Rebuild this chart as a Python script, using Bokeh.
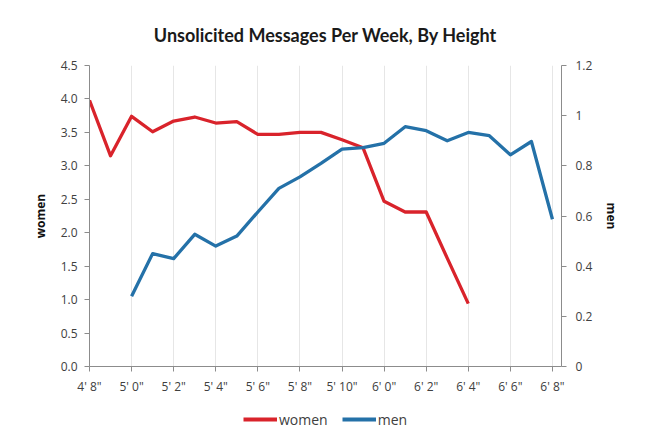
from bokeh.plotting import figure
from bokeh.layouts import column
from bokeh.models import (Range1d, LinearAxis, FixedTicker, Legend, LegendItem)
from bokeh.embed import file_html
from bokeh.resources import INLINE

heights = ["4' 8\"", "4' 10\"", "5' 0\"", "5' 1\"", "5' 2\"", "5' 3\"", "5' 4\"", "5' 5\"",
           "5' 6\"", "5' 7\"", "5' 8\"", "5' 9\"", "5' 10\"", "5' 11\"", "6' 0\"", "6' 1\"",
           "6' 2\"", "6' 3\"", "6' 4\"", "6' 5\"", "6' 6\"", "6' 7\"", "6' 8\""]
women = [3.98, 3.15, 3.74, 3.51, 3.67, 3.73, 3.64, 3.66, 3.47, 3.47, 3.50, 3.50,
         3.39, 3.27, 2.47, 2.31, 2.31, 1.62, 0.94]
men = [None, None, 0.28, 0.45, 0.43, 0.527, 0.48, 0.52, 0.616, 0.71, 0.756, 0.81,
       0.867, 0.873, 0.89, 0.956, 0.94, 0.90, 0.933, 0.92, 0.844, 0.897, 0.587]
left_ticks = [0.0, 0.5, 1.0, 1.5, 2.0, 2.5, 3.0, 3.5, 4.0, 4.5]
right_ticks = [0, 0.2, 0.4, 0.6, 0.8, 1.0, 1.2]
right_labels = ["0", "0.2", "0.4", "0.6", "0.8", "1", "1.2"]
series_names = ["women", "men"]
title_text = "Unsolicited Messages Per Week, By Height"

FONT = "Open Sans"
TXT = "#404040"
AX = "#8c8c8c"
RED = "#d9232b"
BLUE = "#2471a8"

p = figure(width=637, height=397, output_backend="svg", toolbar_location=None,
           x_range=Range1d(0, 22.43), y_range=Range1d(0, 4.5),
           min_border_left=89, min_border_right=76, min_border_top=65, min_border_bottom=27)
p.outline_line_color = None
p.background_fill_color = "white"
p.border_fill_color = "white"

p.extra_y_ranges = {"men": Range1d(0, 1.2)}

xi_w = list(range(len(women)))
xi_m = [i for i, v in enumerate(men) if v is not None]
mv = [men[i] for i in xi_m]

p.line(xi_w, women, line_color=RED, line_width=3.3, line_join="round")
p.line(xi_m, mv, line_color=BLUE, line_width=3.3, line_join="round", y_range_name="men")

# x axis
xa = p.xaxis[0]
label_idx = list(range(0, len(heights), 2))
xa.ticker = FixedTicker(ticks=label_idx)
xa.major_label_overrides = {i: heights[i] for i in label_idx}
xa.minor_tick_line_color = None

# left axis
ya = p.yaxis[0]
ya.ticker = FixedTicker(ticks=left_ticks)
ya.major_label_overrides = {t: f"{t:.1f}" for t in left_ticks}
ya.minor_tick_line_color = None
ya.axis_label = "women"

# right axis
ra = LinearAxis(y_range_name="men", ticker=FixedTicker(ticks=right_ticks))
ra.major_label_overrides = {t: l for t, l in zip(right_ticks, right_labels)}
ra.minor_tick_line_color = None
ra.axis_label = "men"
p.add_layout(ra, "right")

for a in [xa, ya, ra]:
    a.axis_line_color = AX
    a.major_tick_line_color = AX
    a.major_tick_in = 0
    a.major_tick_out = 5
    a.major_label_text_font = FONT
    a.major_label_text_font_size = "12px"
    a.major_label_text_color = TXT
    a.axis_label_text_font = FONT
    a.axis_label_text_font_style = "bold"
    a.axis_label_text_font_size = "12px"
    a.axis_label_text_color = "#111111"
xa.major_label_standoff = 6
ya.major_label_standoff = 7
ra.major_label_standoff = 9
ya.axis_label_standoff = 9
ra.axis_label_standoff = 8

p.xgrid.ticker = FixedTicker(ticks=label_idx)
p.xgrid.grid_line_color = "#e6e6e6"
p.ygrid.grid_line_color = None

p.title.text = title_text
p.title.text_font = "Lato"
p.title.text_font_size = "18px"
p.title.text_font_style = "bold"
p.title.text_color = "#1a1a1a"
p.title.align = "center"
p.title.standoff = 40

# legend strip below the chart (series drawn outside its visible range; only the legend shows)
lg = figure(width=637, height=32, output_backend="svg", toolbar_location=None,
            x_range=Range1d(100, 101), y_range=Range1d(100, 101),
            min_border=0, min_border_left=0, min_border_right=0,
            min_border_top=0, min_border_bottom=0)
lg.axis.visible = False
lg.grid.visible = False
lg.outline_line_color = None
lg_w = lg.line(xi_w, women, line_color=RED, line_width=4)
lg_m = lg.line(xi_m, mv, line_color=BLUE, line_width=4)
legend = Legend(items=[LegendItem(label=series_names[0], renderers=[lg_w]),
                       LegendItem(label=series_names[1], renderers=[lg_m])],
                orientation="horizontal", location=(154, 0),
                border_line_color=None, background_fill_alpha=0,
                label_text_font=FONT, label_text_font_size="14px", label_text_color=TXT,
                glyph_width=34, label_standoff=2, spacing=14, padding=0, margin=0)
lg.add_layout(legend, "center")

layout = column(p, lg, spacing=0)
open("out.html", "w").write(file_html(layout, INLINE))
